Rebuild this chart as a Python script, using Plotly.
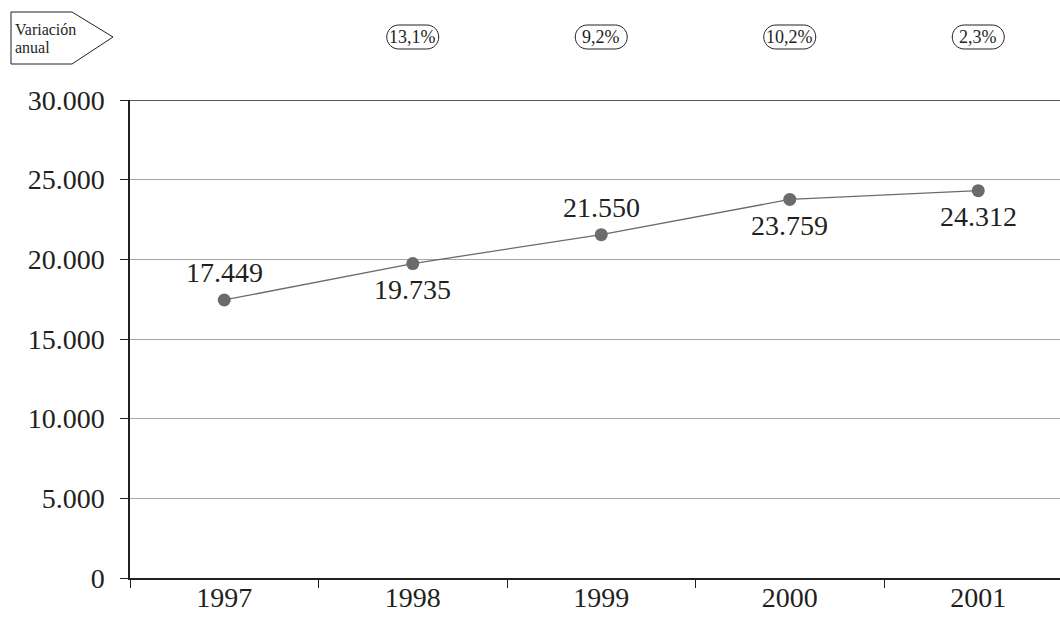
import plotly.graph_objects as go

# Annual totals and the year-on-year change shown above each year
years = ["1997", "1998", "1999", "2000", "2001"]
values = [17449, 19735, 21550, 23759, 24312]
value_labels = ["17.449", "19.735", "21.550", "23.759", "24.312"]
label_side = ["above", "below", "above", "below", "below"]
change_years = ["1998", "1999", "2000", "2001"]
change_labels = ["13,1%", "9,2%", "10,2%", "2,3%"]
y_ticks = [0, 5000, 10000, 15000, 20000, 25000, 30000]

SERIF = "Liberation Serif"
INK = "#231f20"
MARK = "#6b6b6b"
BIG = 28

fig = go.Figure()
fig.add_trace(go.Scatter(
    x=years, y=values, mode="lines+markers",
    line=dict(color=MARK, width=1.3),
    marker=dict(color=MARK, size=13),
    hoverinfo="skip", showlegend=False, cliponaxis=False,
))

# Category positions (index along the x axis) for annotations and badges
pos = {yr: i for i, yr in enumerate(years)}

annotations = []
for yr, v, txt, side in zip(years, values, value_labels, label_side):
    annotations.append(dict(
        x=pos[yr], y=v, xref="x", yref="y", text=txt, showarrow=False,
        xanchor="center", yanchor="middle",
        yshift=27 if side == "above" else -26,
        font=dict(family=SERIF, size=BIG, color=INK),
    ))

shapes = []
# Pill-shaped badges with the annual change, placed over each year
r = 12
half = 14
k = 0.5523 * r
pill = (
    f"M {-half},{-r} L {half},{-r} "
    f"C {half + k},{-r} {half + r},{-k} {half + r},0 "
    f"C {half + r},{k} {half + k},{r} {half},{r} "
    f"L {-half},{r} "
    f"C {-half - k},{r} {-half - r},{k} {-half - r},0 "
    f"C {-half - r},{-k} {-half - k},{-r} {-half},{-r} Z"
)
badge_y = 1 + 63 / 478
for yr, txt in zip(change_years, change_labels):
    shapes.append(dict(
        type="path", xref="x", yref="paper", xsizemode="pixel", ysizemode="pixel",
        xanchor=pos[yr], yanchor=badge_y, path=pill,
        line=dict(color=INK, width=1), fillcolor="white", layer="above",
    ))
    annotations.append(dict(
        x=pos[yr], y=badge_y, xref="x", yref="paper", text=txt, showarrow=False,
        xanchor="center", yanchor="middle",
        font=dict(family=SERIF, size=18, color=INK),
    ))

# Arrow-shaped tag for the "Variación anual" caption
shapes.append(dict(
    type="path", xref="paper", yref="paper", xsizemode="pixel", ysizemode="pixel",
    xanchor=0, yanchor=1,
    path="M -119,88 L -58,88 L -17,63 L -58,36 L -119,36 Z",
    line=dict(color=INK, width=1), fillcolor="white", layer="above",
))
for line_txt, top_px in (("Variación", 29), ("anual", 47)):
    annotations.append(dict(
        x=-117 / 930, y=1 + (100 - top_px) / 478, xref="paper", yref="paper",
        text=line_txt, showarrow=False, align="left",
        xanchor="left", yanchor="middle",
        font=dict(family=SERIF, size=16, color=INK),
    ))

# Dark frame line along the top of the plot
shapes.append(dict(
    type="line", xref="paper", yref="y", x0=0, x1=1, y0=30000, y1=30000,
    line=dict(color=INK, width=1.5), layer="above",
))

fig.update_layout(
    width=1060, height=618,
    margin=dict(l=130, r=0, t=100, b=40),
    paper_bgcolor="white", plot_bgcolor="white",
    separators=",.",
    shapes=shapes, annotations=annotations,
    xaxis=dict(
        type="category", categoryorder="array", categoryarray=years,
        range=[-0.5, -0.5 + 930 / 188.5], automargin=False,
        tickson="boundaries", ticks="outside", ticklen=8, tickcolor=INK, tickwidth=1,
        ticklabelstandoff=-6,
        showline=True, linecolor=INK, linewidth=1.5, showgrid=False,
        tickfont=dict(family=SERIF, size=BIG, color=INK),
        fixedrange=True,
    ),
    yaxis=dict(
        range=[0, 30000], tickvals=y_ticks, tickformat=",", automargin=False,
        ticks="outside", ticklen=8, tickcolor=INK, tickwidth=1,
        ticklabelstandoff=10,
        showline=True, linecolor=INK, linewidth=1.5,
        showgrid=True, gridcolor="#a6a6a6", gridwidth=1, zeroline=False,
        tickfont=dict(family=SERIF, size=BIG, color=INK),
        fixedrange=True,
    ),
)

fig.write_html("out.html")
